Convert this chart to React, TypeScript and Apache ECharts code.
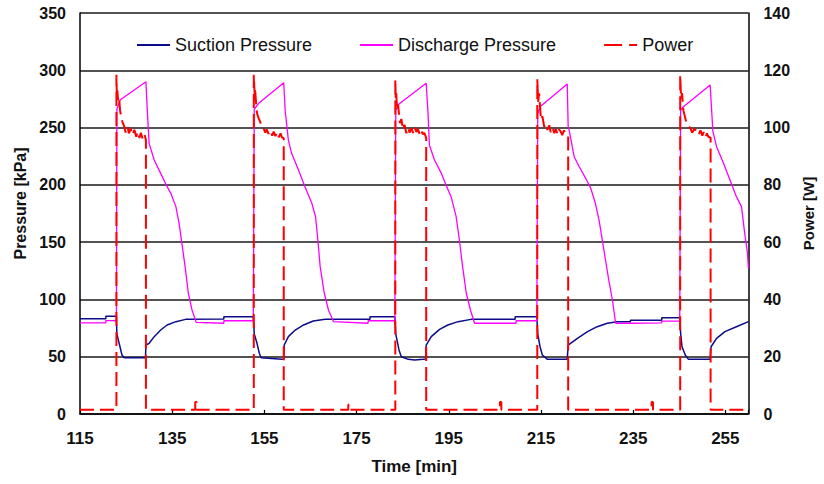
import React, { useEffect, useRef } from "react";
import * as echarts from "echarts";

// Time axis (minutes)
const TIME_START = 115;
const TIME_END = 260;
const TIME_STEP = 20;

// Legend / series names
const SERIES_NAMES = ["Suction Pressure", "Discharge Pressure", "Power"];

// Suction pressure [kPa] : [time, value]
const suctionPressure: [number, number][] = [
  [115, 83.2], [120.6, 83.2], [120.6, 85.3], [122.9, 85.3],
  [123.0, 69.8], [123.5, 61.7], [124.1, 51.5], [124.6, 49.1], [129.2, 49.1],
  [129.3, 60.2], [130.0, 61.7], [131.1, 67.5], [132.5, 73.3], [133.9, 77.7], [135.8, 80.6], [137.9, 82.6], [146.2, 83.0], [146.2, 84.9], [152.6, 84.9],
  [152.8, 69.8], [153.4, 61.7], [153.9, 53], [154.3, 49.1], [158.8, 47.7], [159.2, 48],
  [159.3, 60.2], [160.2, 67.5], [161.7, 73.3], [163.5, 77.7], [165.6, 81.2], [168.2, 82.6], [177.9, 82.6], [177.9, 84.9], [183.3, 84.9],
  [183.5, 69.8], [184.2, 55.9], [184.7, 50], [186.2, 47.7], [187.6, 47.1], [189.4, 47.7], [190.0, 48],
  [190.1, 60.2], [191.2, 67.5], [193.0, 73.9], [194.8, 77.7], [197.0, 80.6], [199.8, 82.6], [209.4, 82.6], [209.4, 84.9], [214.1, 84.9],
  [214.3, 69.8], [214.8, 58.7], [215.3, 51.5], [216.4, 47.7], [220.7, 47.7],
  [220.9, 60.2], [222.9, 66], [225.1, 71.9], [227.2, 76.2], [229.4, 79.2], [231.5, 80.6], [234.4, 80.6], [234.4, 81.8], [241.2, 81.8], [241.2, 84], [245.1, 84],
  [245.3, 70.4], [245.6, 58.7], [246.3, 51.5], [247.0, 47.7], [251.7, 47.7],
  [251.9, 58.7], [253.1, 66], [254.9, 71.9], [257.4, 76.2], [260, 80.6],
];

// Discharge pressure [kPa] : [time, value]
const dischargePressure: [number, number][] = [
  [115, 79.5], [120.6, 79.5], [120.6, 81.5], [122.9, 81.5],
  [123.0, 266], [123.7, 274], [129.3, 290], [129.6, 265], [130.0, 236], [131.1, 221.7], [132.5, 210], [133.9, 198.4], [134.7, 192.6], [135.8, 181], [136.5, 166.4], [137.1, 149], [137.8, 128.6], [138.5, 105.4], [139.3, 90.8], [140.2, 80], [146.2, 79.2], [146.2, 81.4], [152.6, 81.4],
  [152.8, 266], [153.9, 271.7], [159.2, 289.2], [159.5, 265.3], [160.2, 239], [160.9, 227.5], [162.4, 213], [163.8, 198.4], [165.3, 183.9], [166.1, 172.2], [166.6, 151.9], [167.1, 128.6], [168.0, 105.4], [168.9, 90.8], [170.0, 80.6], [177.5, 79.2], [177.5, 81.4], [183.3, 81.4],
  [183.5, 265], [184.2, 270.6], [190.1, 288.6], [190.5, 262.5], [190.8, 234.8], [191.9, 221.7], [193.4, 210], [194.4, 199.9], [195.5, 189.7], [196.6, 172.2], [197.3, 151.9], [198.0, 128.6], [198.8, 105.4], [199.7, 90.8], [200.6, 79.2], [209.6, 79.2], [209.6, 81.4], [214.1, 81.4],
  [214.3, 262], [214.8, 268.2], [220.7, 288], [220.9, 250.8], [221.1, 247.9], [222.2, 224.6], [223.3, 215.8], [224.7, 205.7], [225.8, 197], [226.8, 183.9], [227.6, 169.3], [228.3, 151.9], [229.0, 134.4], [229.7, 117], [230.5, 99.5], [231.2, 79.2], [234.4, 79.2], [234.4, 79.6], [241.2, 79.6], [241.2, 81], [245.1, 81],
  [245.3, 265.3], [245.9, 268.2], [251.7, 287.2], [252.3, 246.4], [253.1, 233.3], [254.6, 218.8], [256.0, 204.2], [257.4, 189.7], [258.5, 181], [259.2, 157.7], [259.8, 140.3], [260, 127],
];

// Power [W] : [time, value]
const power: [number, number][] = [
  [115, 1.5], [122.9, 1.5],
  [122.9, 118.4], [123.0, 110], [123.1, 113], [123.3, 109], [123.5, 110], [123.7, 106], [123.9, 104], [124.2, 102], [124.6, 100.3], [124.9, 98.3], [125.3, 100.5], [125.6, 98], [126.0, 99.6], [126.4, 97.4], [126.8, 99.2], [127.2, 96.8], [127.5, 98.6], [127.9, 96.4], [128.2, 98.2], [128.6, 96], [129.0, 97.6], [129.3, 95.7],
  [129.3, 1.5], [140.0, 1.5], [140.0, 4.2], [140.3, 4.2], [140.3, 1.5], [152.7, 1.5],
  [152.7, 118.4], [152.9, 111], [153.0, 113], [153.2, 108.5], [153.4, 105], [153.7, 103.5], [154.1, 102], [154.4, 100.5], [154.8, 99.8], [155.2, 98.2], [155.5, 99.4], [155.9, 97.8], [156.3, 99], [156.7, 97.2], [157.0, 98.6], [157.4, 97], [157.8, 98.4], [158.1, 96.6], [158.5, 98], [158.8, 96.6], [159.2, 96.3],
  [159.2, 1.5], [173.2, 1.5], [173.2, 3.2], [173.6, 3.2], [173.6, 1.5], [183.4, 1.5],
  [183.4, 116.9], [183.5, 110], [183.6, 112], [183.8, 106], [184.0, 108], [184.4, 101.5], [184.7, 103], [185.1, 99.2], [185.4, 101], [185.8, 98], [186.2, 100], [186.5, 98.2], [186.9, 99.8], [187.3, 98], [187.6, 100], [188.0, 98.4], [188.3, 99.6], [188.7, 97.6], [189.0, 99], [189.4, 97.6], [189.7, 98.2], [190.1, 96.3],
  [190.1, 1.5], [206.1, 1.5], [206.1, 4.2], [206.4, 4.2], [206.4, 1.5], [214.2, 1.5],
  [214.2, 116.9], [214.4, 109], [214.6, 112], [214.8, 107.3], [215.0, 102.7], [215.3, 104], [215.7, 100.3], [216.0, 101.2], [216.4, 99.2], [216.8, 100.8], [217.1, 98.4], [217.5, 100], [217.9, 98], [218.2, 99.6], [218.6, 97.6], [218.9, 99.4], [219.3, 98.6], [219.6, 97.4], [220.0, 99], [220.4, 97.4], [220.9, 97],
  [220.9, 1.5], [239.0, 1.5], [239.0, 4.2], [239.3, 4.2], [239.3, 1.5], [245.2, 1.5],
  [245.2, 118.4], [245.4, 110], [245.6, 112], [245.9, 106], [246.2, 104], [246.5, 102], [246.9, 100.8], [247.4, 99.8], [247.8, 98.2], [248.3, 99.6], [248.8, 98.6], [249.2, 97.4], [249.6, 99], [250.0, 97.2], [250.3, 98.4], [250.7, 96.6], [251.0, 98], [251.3, 96.8], [251.8, 96.5],
  [251.8, 1.5], [260, 1.5],
];

const FONT = "'Liberation Sans', Arial, sans-serif";
const SOLID_ICON = "path://M0,0H33V2H0Z";
const DASH_ICON = "path://M0,0H18V2H0Z M25,0H33V2H25Z";

const shift = (d: [number, number][]) => d.map(([t, v]) => [t - TIME_START, v]);

export default function App() {
  const ref = useRef<HTMLDivElement>(null);
  useEffect(() => {
    if (!ref.current) return;
    const chart = echarts.init(ref.current, undefined, { renderer: "svg" });
    const option: any = {
      animation: false,
      backgroundColor: "#ffffff",
      textStyle: { fontFamily: FONT },
      grid: { left: 80, right: 72, top: 13, bottom: 70 },
      legend: {
        left: 132,
        top: 31,
        itemGap: 48,
        itemWidth: 33,
        itemHeight: 2.2,
        data: [
          { name: SERIES_NAMES[0], icon: SOLID_ICON },
          { name: SERIES_NAMES[1], icon: SOLID_ICON },
          { name: SERIES_NAMES[2], icon: DASH_ICON },
        ],
        textStyle: { fontSize: 18, color: "#111", fontFamily: FONT },
      },
      xAxis: {
        type: "value",
        min: 0,
        max: TIME_END - TIME_START,
        interval: TIME_STEP,
        name: "Time [min]",
        nameLocation: "middle",
        nameGap: 44,
        nameTextStyle: { fontSize: 17, fontWeight: "bold", color: "#111", fontFamily: FONT },
        axisLine: { lineStyle: { color: "#000", width: 1.5 } },
        axisTick: { inside: true, length: 4, lineStyle: { color: "#000", width: 1.2 } },
        splitLine: { show: false },
        axisLabel: {
          fontSize: 17,
          fontWeight: "bold",
          color: "#111",
          margin: 16,
          fontFamily: FONT,
          formatter: (v: number) => (v % TIME_STEP === 0 ? String(v + TIME_START) : ""),
        },
      },
      yAxis: [
        {
          type: "value",
          min: 0,
          max: 350,
          interval: 50,
          position: "left",
          name: "Pressure [kPa]",
          nameLocation: "middle",
          nameRotate: 90,
          nameGap: 51,
          nameTextStyle: { fontSize: 16, fontWeight: "bold", color: "#111", fontFamily: FONT, padding: [0, 0, 0, 20] },
          axisLine: { show: true, lineStyle: { color: "#000", width: 1.5 } },
          axisTick: { show: false },
          splitLine: { show: true, lineStyle: { color: "#1a1a1a", width: 1.5 } },
          axisLabel: { fontSize: 16, fontWeight: "bold", color: "#111", margin: 14, fontFamily: FONT },
        },
        {
          type: "value",
          min: 0,
          max: 140,
          interval: 20,
          position: "right",
          name: "Power [W]",
          nameLocation: "middle",
          nameRotate: 90,
          nameGap: 46,
          nameTextStyle: { fontSize: 15, fontWeight: "bold", color: "#111", fontFamily: FONT },
          axisLine: { show: true, lineStyle: { color: "#000", width: 1.5 } },
          axisTick: { show: false },
          splitLine: { show: false },
          axisLabel: {
            fontSize: 16,
            fontWeight: "bold",
            color: "#111",
            margin: 15,
            fontFamily: "'Liberation Sans Narrow', 'Liberation Sans', Arial, sans-serif",
          },
        },
      ],
      series: [
        {
          name: SERIES_NAMES[0],
          type: "line",
          yAxisIndex: 0,
          data: shift(suctionPressure),
          symbol: "none",
          showSymbol: false,
          lineStyle: { color: "#0c0c8a", width: 1.5 },
          itemStyle: { color: "#0c0c8a" },
        },
        {
          name: SERIES_NAMES[1],
          type: "line",
          yAxisIndex: 0,
          data: shift(dischargePressure),
          symbol: "none",
          showSymbol: false,
          lineStyle: { color: "#ff00ff", width: 1.3 },
          itemStyle: { color: "#ff00ff" },
        },
        {
          name: SERIES_NAMES[2],
          type: "line",
          yAxisIndex: 1,
          data: shift(power),
          symbol: "none",
          showSymbol: false,
          lineStyle: { color: "#ff0000", width: 2, type: [14, 6] },
          itemStyle: { color: "#ff0000" },
        },
      ],
    };
    chart.setOption(option);
    return () => chart.dispose();
  }, []);
  return (
    <div
      ref={ref}
      style={{ position: "fixed", left: 0, top: 0, width: 824, height: 484, background: "#fff" }}
    />
  );
}
